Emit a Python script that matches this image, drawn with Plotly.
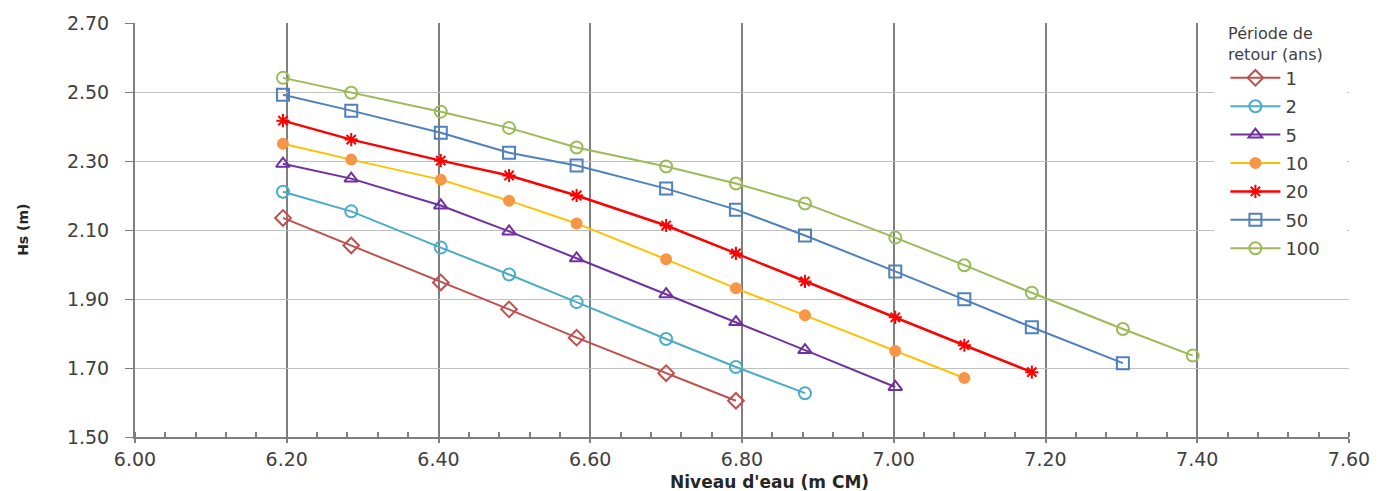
import plotly.graph_objects as go

# ---------------- data ----------------
niveau = [6.195, 6.285, 6.403, 6.493, 6.582, 6.70, 6.792, 6.883, 7.002, 7.093, 7.182, 7.302, 7.394]

periodes = ["1", "2", "5", "10", "20", "50", "100"]
hs_1 = [2.135, 2.055, 1.948, 1.870, 1.788, 1.685, 1.605]
hs_2 = [2.211, 2.154, 2.049, 1.971, 1.891, 1.784, 1.703, 1.627]
hs_5 = [2.292, 2.249, 2.171, 2.096, 2.018, 1.914, 1.833, 1.752, 1.645]
hs_10 = [2.350, 2.304, 2.246, 2.185, 2.119, 2.015, 1.931, 1.853, 1.749, 1.671]
hs_20 = [2.417, 2.362, 2.301, 2.258, 2.200, 2.113, 2.032, 1.951, 1.847, 1.766, 1.688]
hs_50 = [2.492, 2.446, 2.382, 2.324, 2.287, 2.220, 2.159, 2.084, 1.980, 1.899, 1.818, 1.714]
hs_100 = [2.541, 2.498, 2.443, 2.396, 2.339, 2.284, 2.235, 2.177, 2.078, 1.998, 1.918, 1.813, 1.736]
series = [hs_1, hs_2, hs_5, hs_10, hs_20, hs_50, hs_100]

# ---------------- styles ----------------
line_colors = ["#c0504d", "#4bacc6", "#7030a0", "#ffc000", "#ff0000", "#4f81bd", "#9bbb59"]
marker_colors = ["#c0504d", "#4bacc6", "#7030a0", "#f79646", "#ff0000", "#4f81bd", "#9bbb59"]
symbols = ["diamond-open", "circle-open", "triangle-up-open", "circle", "asterisk-open", "square-open", "circle-open"]
sizes = [12, 12, 12, 10, 11, 12, 12]
line_widths = [2, 2, 2, 2, 2.5, 2, 2]

W, H = 1382, 491
L, R, T, B = 135, 1353, 22, 437  # plot area in px


def px_x(p):
    return (p - L) / (R - L)


def px_y(p):
    return (B - p) / (B - T)


fig = go.Figure()
for i, (name, ys) in enumerate(zip(periodes, series)):
    fig.add_trace(go.Scatter(
        x=niveau[:len(ys)], y=ys, name=name, mode="lines+markers",
        legendgroup=name,
        line=dict(color=line_colors[i], width=line_widths[i]),
        marker=dict(symbol=symbols[i], size=sizes[i], color=marker_colors[i],
                    line=dict(color=marker_colors[i], width=2)),
    ))

tick_font = dict(family="DejaVu Sans", size=19, color="#404040")

fig.update_layout(
    width=W, height=H,
    margin=dict(l=L, r=W - R, t=T, b=H - B),
    paper_bgcolor="white", plot_bgcolor="white",
    showlegend=True,
    legend=dict(
        x=px_x(1229), y=px_y(17), xanchor="left", yanchor="top",
        bgcolor="rgba(0,0,0,0)", borderwidth=0,
        title=dict(text="Période de<br>retour (ans)", side="top center",
                   font=dict(family="DejaVu Sans", size=16, color="#404040")),
        font=dict(family="DejaVu Sans", size=18, color="#404040"),
        itemwidth=50, traceorder="grouped", tracegroupgap=2,
        maxheight=470,
    ),
    xaxis=dict(
        range=[6.0, 7.6], dtick=0.2, tick0=6.0, tickformat=".2f",
        showgrid=True, gridcolor="#7f7f7f", gridwidth=2,
        showline=True, linecolor="#7f7f7f", linewidth=1.5,
        ticks="outside", ticklen=4, tickcolor="#7f7f7f", tickwidth=2,
        minor=dict(ticks="inside", ticklen=5, tickcolor="#7f7f7f", dtick=0.04, tick0=6.0, showgrid=False),
        zeroline=False, tickfont=tick_font,
    ),
    yaxis=dict(
        range=[1.5, 2.7], dtick=0.2, tick0=1.5, tickformat=".2f",
        showgrid=True, gridcolor="#c0c0c0", gridwidth=1,
        showline=True, linecolor="#7f7f7f", linewidth=2,
        ticks="outside", ticklen=8, tickcolor="#7f7f7f", tickwidth=1,
        ticklabelstandoff=12,
        zeroline=False, tickfont=tick_font,
    ),
    shapes=[dict(type="rect", xref="paper", yref="paper",
                 x0=px_x(1218), x1=px_x(1351), y0=px_y(285), y1=px_y(23.5),
                 fillcolor="white", line=dict(width=0), layer="above")],
    annotations=[
        dict(text="<b>Niveau d'eau (m CM)</b>", xref="paper", yref="paper",
             x=px_x(772), y=px_y(482), xanchor="center", yanchor="middle",
             showarrow=False, font=dict(family="DejaVu Sans", size=17, color="#262626")),
        dict(text="<b>Hs (m)</b>", xref="paper", yref="paper",
             x=px_x(22), y=px_y(229), xanchor="center", yanchor="middle", textangle=-90,
             showarrow=False, font=dict(family="DejaVu Sans", size=14, color="#262626")),
    ],
)

fig.write_html("out.html",
               config={"displayModeBar": False},
               post_script="document.body.style.margin='0px';document.body.style.overflow='hidden';")
